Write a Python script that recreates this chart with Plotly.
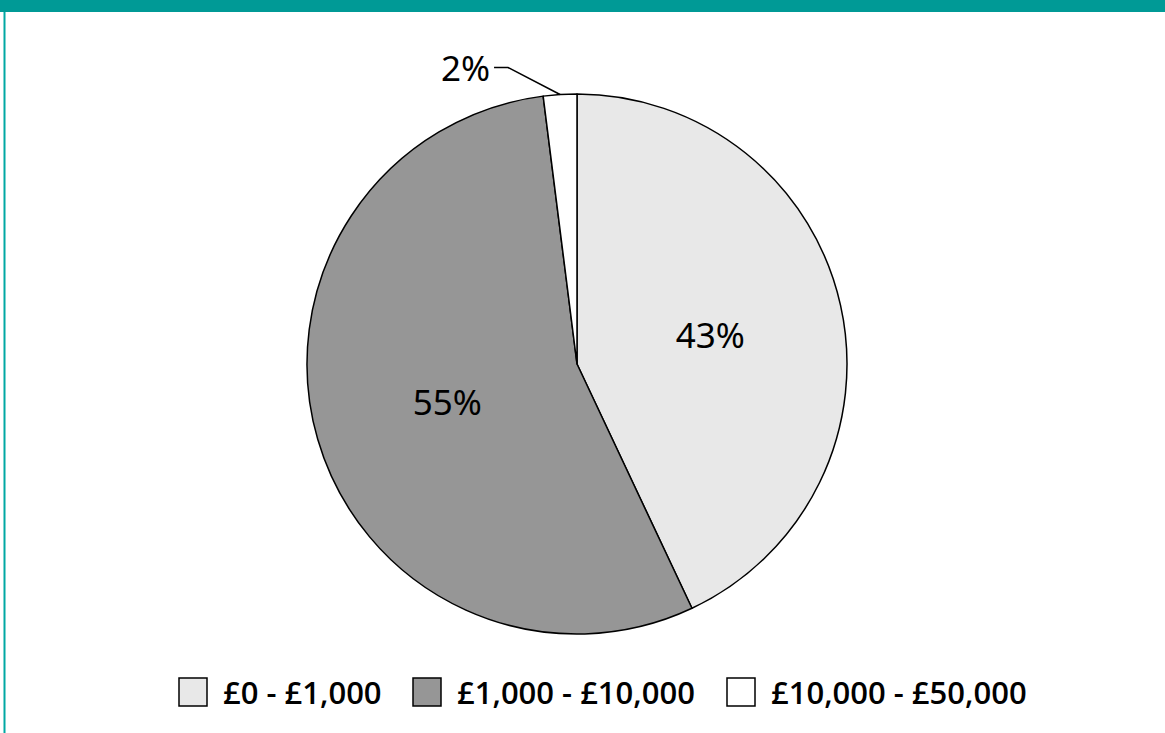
import math
import plotly.graph_objects as go

# Share of accounts by balance band
bands = ["£0 - £1,000", "£1,000 - £10,000", "£10,000 - £50,000"]
shares = [43, 55, 2]
slice_colors = ["#e8e8e8", "#969696", "#ffffff"]
text_positions = ["inside", "inside", "none"]

W, H = 1165, 733
CX, CY, R = 577, 364, 270  # pie centre / radius in pixels

TEAL = "#009a96"
FONT = "Noto Sans"
LEGEND_FONT = "Open Sans"

fig = go.Figure(
    go.Pie(
        labels=bands,
        values=shares,
        sort=False,
        direction="clockwise",
        rotation=0,
        marker=dict(colors=slice_colors, line=dict(color="#000000", width=1.5)),
        texttemplate="%{value}%",
        textposition=text_positions,
        insidetextorientation="horizontal",
        textfont=dict(family=FONT, size=35, color="#000000"),
        domain=dict(
            x=[(CX - R) / W, (CX + R) / W],
            y=[(H - CY - R) / H, (H - CY + R) / H],
        ),
        showlegend=False,
        hoverinfo="label+percent",
    )
)


def px(x):
    return x / W


def py(y):
    return 1 - y / H


shapes = []
annotations = []

# Outside label with an elbow leader for the small slice
total = sum(shares)
start = sum(shares[:2])
mid = (start + shares[2] / 2) / total * 2 * math.pi
ex = CX + R * math.sin(mid)
ey = CY - R * math.cos(mid)
elbow_x, elbow_y = ex - 52, ey - 27
end_x = elbow_x - 14
shapes.append(
    dict(
        type="path",
        xref="paper",
        yref="paper",
        path=f"M{px(ex)},{py(ey)} L{px(elbow_x)},{py(elbow_y)} L{px(end_x)},{py(elbow_y)}",
        line=dict(color="#000000", width=1.5),
    )
)
annotations.append(
    dict(
        xref="paper",
        yref="paper",
        x=px(end_x - 2),
        y=py(elbow_y),
        xanchor="right",
        yanchor="middle",
        text=f"{shares[2]}%",
        showarrow=False,
        font=dict(family=FONT, size=35, color="#000000"),
    )
)

# Legend row with large square keys
legend_y = 692
key = 28
legend_x = [179, 413, 727]
for name, color, lx in zip(bands, slice_colors, legend_x):
    shapes.append(
        dict(
            type="rect",
            xref="paper",
            yref="paper",
            x0=px(lx),
            x1=px(lx + key),
            y0=py(legend_y + key / 2),
            y1=py(legend_y - key / 2),
            fillcolor=color,
            line=dict(color="#000000", width=1.5),
        )
    )
    annotations.append(
        dict(
            xref="paper",
            yref="paper",
            x=px(lx + key + 14),
            y=py(legend_y),
            xanchor="left",
            yanchor="middle",
            text=name,
            showarrow=False,
            font=dict(family=LEGEND_FONT, size=31, color="#000000", weight=600),
        )
    )

# Teal frame: heavy top band and thin left rule
shapes.append(
    dict(type="rect", xref="paper", yref="paper", x0=0, x1=1, y0=py(12), y1=1,
         fillcolor=TEAL, line=dict(width=0), layer="above")
)
shapes.append(
    dict(type="line", xref="paper", yref="paper", x0=px(4.5), x1=px(4.5), y0=0, y1=py(12),
         line=dict(color="#00a8a3", width=2))
)

fig.update_layout(
    width=W,
    height=H,
    margin=dict(l=0, r=0, t=0, b=0),
    paper_bgcolor="#ffffff",
    plot_bgcolor="#ffffff",
    showlegend=False,
    shapes=shapes,
    annotations=annotations,
)

fig.write_html("out.html", config={"displayModeBar": False})
